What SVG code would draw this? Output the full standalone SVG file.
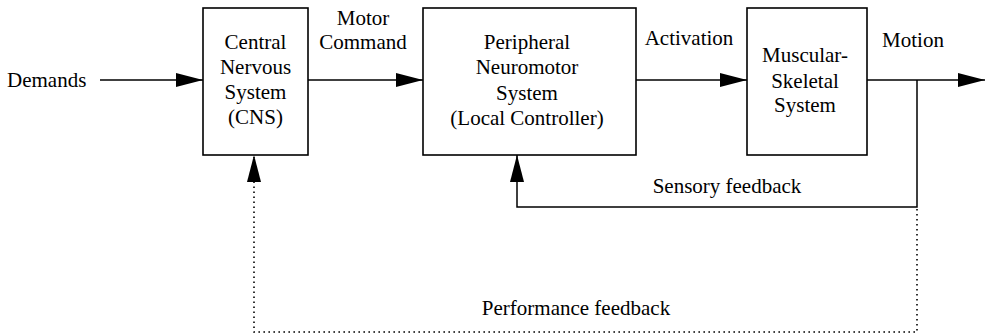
<svg xmlns="http://www.w3.org/2000/svg" width="985" height="335" viewBox="0 0 985 335">
<style>
text{font-family:"Liberation Serif","Times New Roman",serif;font-size:21px;fill:#000}
.c{text-anchor:middle}
.box{fill:#fff;stroke:#000;stroke-width:1.6}
.ln{fill:none;stroke:#000;stroke-width:1.5}
.dot{fill:none;stroke:#000;stroke-width:1.6;stroke-dasharray:1.6 3.4}
</style>
<defs>
<marker id="ah" viewBox="0 0 27 14" refX="27" refY="7" markerWidth="27" markerHeight="14" markerUnits="userSpaceOnUse" orient="auto">
<path d="M0,0 L27,7 L0,14 Z" fill="#000"/>
</marker>
</defs>
<g id="connectors">
<line class="ln" x1="100" y1="80" x2="203" y2="80" marker-end="url(#ah)"/>
<line class="ln" x1="308" y1="80" x2="423" y2="80" marker-end="url(#ah)"/>
<line class="ln" x1="636" y1="80" x2="747" y2="80" marker-end="url(#ah)"/>
<line class="ln" x1="867" y1="80" x2="985" y2="80" marker-end="url(#ah)"/>
<polyline class="ln" points="917,80 917,207 517,207 517,155" marker-end="url(#ah)"/>
<polyline class="dot" points="917,209 917,332 254,332 254,157"/>
<path d="M247,182 L254,155 L261,182 Z" fill="#000"/>
<text x="7" y="87">Demands</text>
<text class="c" x="363" y="25">Motor</text>
<text class="c" x="363" y="49">Command</text>
<text class="c" x="689" y="45">Activation</text>
<text class="c" x="913" y="47">Motion</text>
<text class="c" x="727" y="193">Sensory feedback</text>
<text class="c" x="576" y="315">Performance feedback</text>
</g>
<g id="cns">
<rect class="box" x="203" y="8" width="105" height="147"/>
<text class="c" x="255.5" y="49">Central</text>
<text class="c" x="255.5" y="74">Nervous</text>
<text class="c" x="255.5" y="99">System</text>
<text class="c" x="255.5" y="124">(CNS)</text>
</g>
<g id="peripheral">
<rect class="box" x="423" y="8" width="213" height="147"/>
<text class="c" x="527" y="49">Peripheral</text>
<text class="c" x="527" y="74">Neuromotor</text>
<text class="c" x="527" y="100">System</text>
<text class="c" x="527" y="125">(Local Controller)</text>
</g>
<g id="musculoskeletal">
<rect class="box" x="747" y="8" width="120" height="147"/>
<text class="c" x="805" y="62">Muscular-</text>
<text class="c" x="805" y="88">Skeletal</text>
<text class="c" x="805" y="112">System</text>
</g>
</svg>
